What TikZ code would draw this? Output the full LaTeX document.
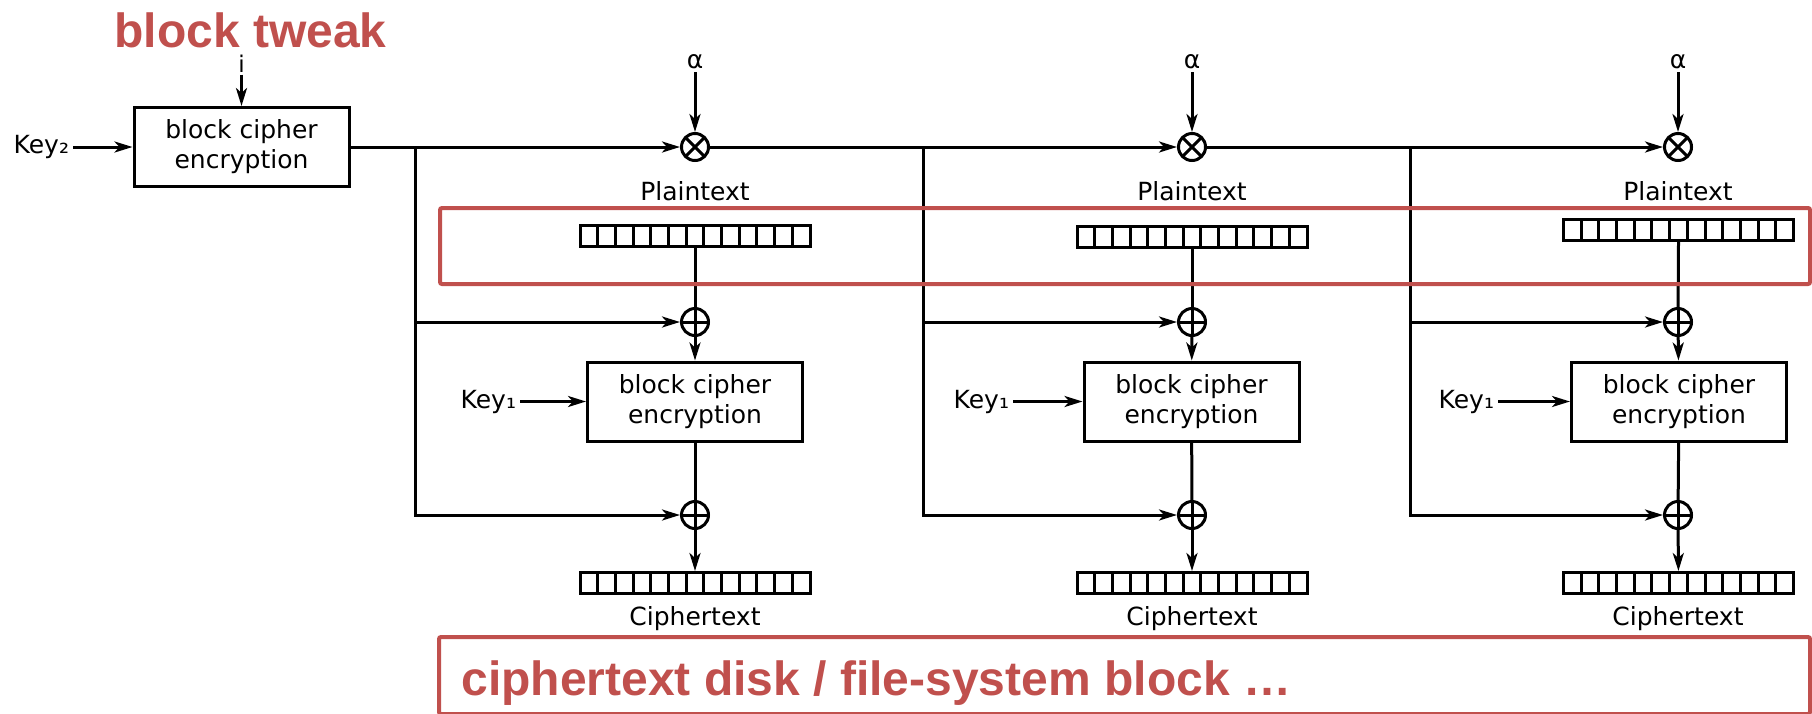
\documentclass[tikz,border=0pt]{standalone}
\usepackage{fontspec}
\setmainfont{DejaVu Sans}
\newfontfamily\notefont{Liberation Sans}
\usepackage{xcolor}
\usetikzlibrary{arrows.meta}
\definecolor{notered}{RGB}{192,80,77}

\begin{document}
\begin{tikzpicture}[x=1pt,y=-1pt,line width=3pt,
  >={Stealth[length=18pt,width=11pt,inset=5pt]},
  every node/.style={font=\fontsize{25}{30}\selectfont},
  lbl/.style={inner sep=2.5pt},
  cipher/.style={draw,align=center,minimum width=215pt,minimum height=79pt,inner sep=0pt},
  cellrow/.style={draw,minimum width=230pt,minimum height=21pt,inner sep=0pt,
    path picture={\foreach \k in {1,...,12}
      \draw ([xshift=\k*17.692pt]path picture bounding box.south west) -- ([xshift=\k*17.692pt]path picture bounding box.north west);}},
  mult/.style={draw,circle,minimum size=27pt,inner sep=0pt,
    path picture={\draw (path picture bounding box.north west) -- (path picture bounding box.south east)
      (path picture bounding box.north east) -- (path picture bounding box.south west);}},
  xor/.style={draw,circle,minimum size=27pt,inner sep=0pt,
    path picture={\draw (path picture bounding box.north) -- (path picture bounding box.south)
      (path picture bounding box.west) -- (path picture bounding box.east);}},
  note/.style={text=notered,font=\notefont\bfseries\fontsize{48}{48}\selectfont,inner sep=0pt,anchor=base west},
  hilite/.style={draw=notered,line width=4pt,rounded corners=2pt}]
\useasboundingbox (0,0) rectangle (1812,713);

\node[cipher] (enc0) at (241.5,147) {block cipher\\encryption};
\node[lbl,anchor=east] (key2) at (73,147) {Key₂};
\node[inner sep=0pt,anchor=base,font=\fontsize{23}{28}\selectfont] (idx) at (241.5,72) {i};
\draw[->] ([yshift=-1pt]idx.south) -- (enc0);
\draw[->] (key2) -- (enc0);

\node[mult] (m1) at (695,147) {};
\node[mult] (m2) at (1192,147) {};
\node[mult] (m3) at (1678,147) {};
\node[lbl,anchor=base] (al1) at (695,68) {α};
\node[lbl,anchor=base] (al2) at (1192,68) {α};
\node[lbl,anchor=base] (al3) at (1678,68) {α};
\coordinate (br1) at (415,147);
\coordinate (br2) at (923,147);
\coordinate (br3) at (1410,147);

\node[anchor=base] (pl1) at (695,200) {Plaintext};
\node[anchor=base] (pl2) at (1192,200) {Plaintext};
\node[anchor=base] (pl3) at (1678,200) {Plaintext};
\node[cellrow] (pt1) at (695,236) {};
\node[cellrow] (pt2) at (1192,236.5) {};
\node[cellrow] (pt3) at (1678.5,230) {};

\node[xor] (xa1) at (695,322) {};
\node[xor] (xa2) at (1192,322) {};
\node[xor] (xa3) at (1678,322) {};
\node[cipher] (enc1) at (695,401.5) {block cipher\\encryption};
\node[cipher] (enc2) at (1191.5,401.5) {block cipher\\encryption};
\node[cipher] (enc3) at (1679,401.5) {block cipher\\encryption};
\node[lbl,anchor=east] (key1a) at (520,401.5) {Key₁};
\node[lbl,anchor=east] (key1b) at (1013,401.5) {Key₁};
\node[lbl,anchor=east] (key1c) at (1498,401.5) {Key₁};
\node[xor] (xb1) at (695,515) {};
\node[xor] (xb2) at (1192,515) {};
\node[xor] (xb3) at (1678,515) {};

\node[cellrow] (ct1) at (695,583) {};
\node[cellrow] (ct2) at (1192,583) {};
\node[cellrow] (ct3) at (1678.5,583) {};
\node[anchor=base] (cl1) at (695,625) {Ciphertext};
\node[anchor=base] (cl2) at (1192,625) {Ciphertext};
\node[anchor=base] (cl3) at (1678,625) {Ciphertext};

\draw[->] (enc0) -- (m1);
\draw[->] (m1) -- (m2);
\draw[->] (m2) -- (m3);
\draw[->] (al1) -- (m1);
\draw[->] (al2) -- (m2);
\draw[->] (al3) -- (m3);
\draw[->] (br1) |- (xa1);
\draw[->] (br1) |- (xb1);
\draw[->] (br2) |- (xa2);
\draw[->] (br2) |- (xb2);
\draw[->] (br3) |- (xa3);
\draw[->] (br3) |- (xb3);
\draw (pt1) -- (xa1);
\draw (pt2) -- (xa2);
\draw (pt3.south) -- (xa3);
\draw[->] (xa1) -- (enc1);
\draw[->] (xa2) -- (enc2);
\draw[->] (xa3) -- (enc3);
\draw[->] (key1a) -- (enc1);
\draw[->] (key1b) -- (enc2);
\draw[->] (key1c) -- (enc3);
\draw (enc1) -- (xb1);
\draw (enc2) -- (xb2);
\draw (enc3) -- (xb3);
\draw[->] (xb1) -- (ct1);
\draw[->] (xb2) -- (ct2);
\draw[->] (xb3) -- (ct3);

\draw[hilite] (440,208) rectangle (1810,284);
\draw[hilite] (439,637) rectangle (1810,714);
\node[note] (tweak) at (113,47) {block tweak};
\node[note] (disk) at (460,695) {ciphertext disk / file-system block …};
\end{tikzpicture}
\end{document}
